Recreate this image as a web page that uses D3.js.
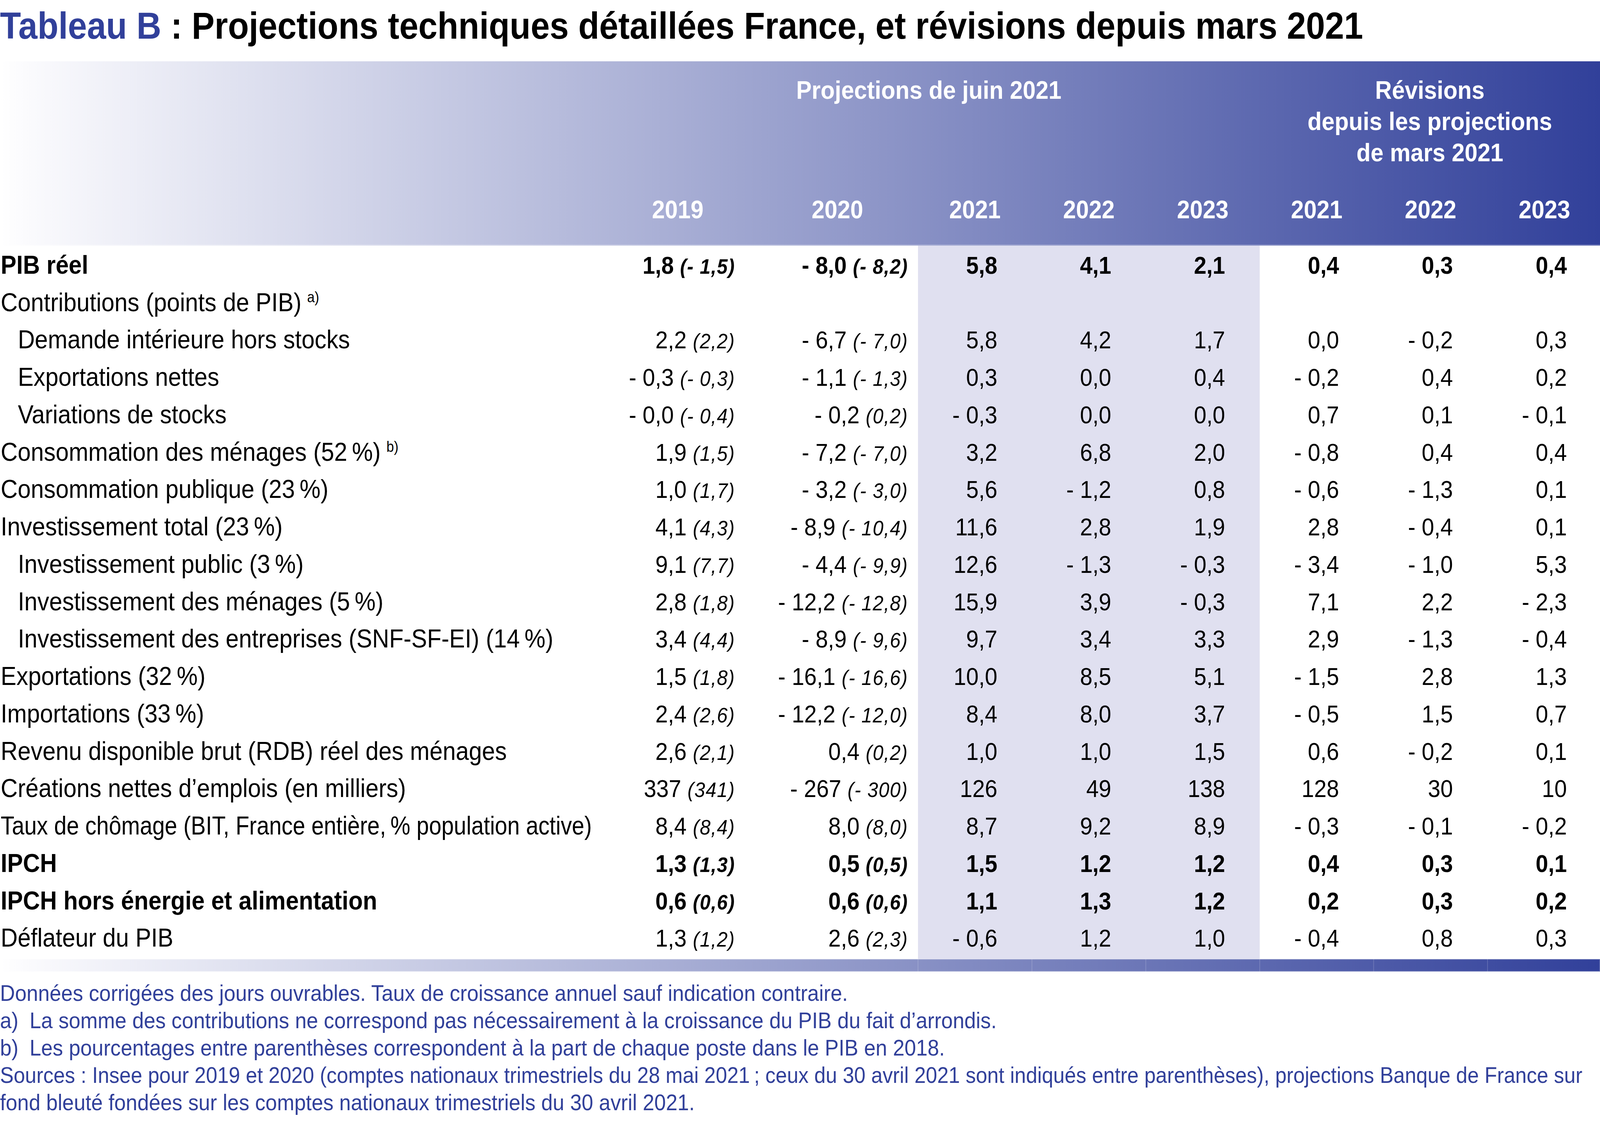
<!DOCTYPE html>
<html>
<head>
<meta charset="utf-8">
<script src="https://cdn.jsdelivr.net/npm/d3@7"></script>
<style>
  html, body { margin: 0; padding: 0; background: #fff; overflow: hidden; }
  svg { display: block; width: 100vw; height: 100vh; }
</style>
</head>
<body>
<div id="chart"></div>
<script>
// Tableau B - projections France, juin 2021

var rowLabels = [
  "PIB réel",
  "Contributions (points de PIB)",
  "Demande intérieure hors stocks",
  "Exportations nettes",
  "Variations de stocks",
  "Consommation des ménages (52\u2009%)",
  "Consommation publique (23\u2009%)",
  "Investissement total (23\u2009%)",
  "Investissement public (3\u2009%)",
  "Investissement des ménages (5\u2009%)",
  "Investissement des entreprises (SNF-SF-EI) (14\u2009%)",
  "Exportations (32\u2009%)",
  "Importations (33\u2009%)",
  "Revenu disponible brut (RDB) réel des ménages",
  "Créations nettes d’emplois (en milliers)",
  "Taux de chômage (BIT, France entière,\u2009% population active)",
  "IPCH",
  "IPCH hors énergie et alimentation",
  "Déflateur du PIB"
];
var boldRows = [0, 16, 17];
var indentRows = [2, 3, 4, 8, 9, 10];
var integerRows = [14];
var noteMarks = [null, "a)", null, null, null, "b)"];

// 2019 / 2020 : valeur publiée (et valeur du 30 avril entre parenthèses)
var v2019 = [1.8, null, 2.2, -0.3, -0.0, 1.9, 1.0, 4.1, 9.1, 2.8, 3.4, 1.5, 2.4, 2.6, 337, 8.4, 1.3, 0.6, 1.3];
var p2019 = [-1.5, null, 2.2, -0.3, -0.4, 1.5, 1.7, 4.3, 7.7, 1.8, 4.4, 1.8, 2.6, 2.1, 341, 8.4, 1.3, 0.6, 1.2];
var v2020 = [-8.0, null, -6.7, -1.1, -0.2, -7.2, -3.2, -8.9, -4.4, -12.2, -8.9, -16.1, -12.2, 0.4, -267, 8.0, 0.5, 0.6, 2.6];
var p2020 = [-8.2, null, -7.0, -1.3, 0.2, -7.0, -3.0, -10.4, -9.9, -12.8, -9.6, -16.6, -12.0, 0.2, -300, 8.0, 0.5, 0.6, 2.3];
// projections de juin 2021
var proj2021 = [5.8, null, 5.8, 0.3, -0.3, 3.2, 5.6, 11.6, 12.6, 15.9, 9.7, 10.0, 8.4, 1.0, 126, 8.7, 1.5, 1.1, -0.6];
var proj2022 = [4.1, null, 4.2, 0.0, 0.0, 6.8, -1.2, 2.8, -1.3, 3.9, 3.4, 8.5, 8.0, 1.0, 49, 9.2, 1.2, 1.3, 1.2];
var proj2023 = [2.1, null, 1.7, 0.4, 0.0, 2.0, 0.8, 1.9, -0.3, -0.3, 3.3, 5.1, 3.7, 1.5, 138, 8.9, 1.2, 1.2, 1.0];
// revisions depuis mars 2021
var rev2021 = [0.4, null, 0.0, -0.2, 0.7, -0.8, -0.6, 2.8, -3.4, 7.1, 2.9, -1.5, -0.5, 0.6, 128, -0.3, 0.4, 0.2, -0.4];
var rev2022 = [0.3, null, -0.2, 0.4, 0.1, 0.4, -1.3, -0.4, -1.0, 2.2, -1.3, 2.8, 1.5, -0.2, 30, -0.1, 0.3, 0.3, 0.8];
var rev2023 = [0.4, null, 0.3, 0.2, -0.1, 0.4, 0.1, 0.1, 5.3, -2.3, -0.4, 1.3, 0.7, 0.1, 10, -0.2, 0.1, 0.2, 0.3];

var histYears = ["2019", "2020"];
var projYears = ["2021", "2022", "2023"];
var revYears = ["2021", "2022", "2023"];
var groupLabels = ["Projections de juin 2021", ["Révisions", "depuis les projections", "de mars 2021"]];

var titleLead = "Tableau B";
var titleRest = " : Projections techniques détaillées France, et révisions depuis mars 2021";
var notes = [
  ["", "Données corrigées des jours ouvrables. Taux de croissance annuel sauf indication contraire."],
  ["a)", "La somme des contributions ne correspond pas nécessairement à la croissance du PIB du fait d’arrondis."],
  ["b)", "Les pourcentages entre parenthèses correspondent à la part de chaque poste dans le PIB en 2018."],
  ["", "Sources : Insee pour 2019 et 2020 (comptes nationaux trimestriels du 28 mai 2021\u2009; ceux du 30 avril 2021 sont indiqués entre parenthèses), projections Banque de France sur"],
  ["", "fond bleuté fondées sur les comptes nationaux trimestriels du 30 avril 2021."]
];

var W = 4488, H = 2886;
var FONT = "'Liberation Sans', Arial, Helvetica, sans-serif";
var BLUE = "#31409a";
var headTop = 157, headBot = 629, bandTop = 2456, bandBot = 2488;

var fmt = function(v, r) {
  if (v === null || v === undefined) return "";
  var neg = v < 0 || Object.is(v, -0);
  var s = Math.abs(v).toFixed(integerRows.indexOf(r) >= 0 ? 0 : 1).replace(".", ",");
  return (neg ? "- " : "") + s;
};

// viewBox keeps the 4488x2886 layout whatever the window really is
var svg = d3.select("#chart").append("svg")
  .attr("viewBox", "0 0 " + W + " " + H)
  .attr("preserveAspectRatio", "none")
  .attr("font-family", FONT);

var defs = svg.append("defs");
var grad = defs.append("linearGradient")
  .attr("id", "bleu").attr("gradientUnits", "userSpaceOnUse")
  .attr("x1", 0).attr("x2", W).attr("y1", 0).attr("y2", 0);
grad.append("stop").attr("offset", 0).attr("stop-color", "#ffffff");
grad.append("stop").attr("offset", 0.02).attr("stop-color", "#fafafd");
grad.append("stop").attr("offset", 1).attr("stop-color", BLUE);

// scales
var y = d3.scaleLinear().domain([0, rowLabels.length - 1]).range([701, 2424.5]);
var colKeys = ["p2021", "p2022", "p2023", "r2021", "r2022", "r2023"];
var x = d3.scaleBand().domain(colKeys).range([2575, 2575 + 6 * 319.5]);
var hist = d3.scaleOrdinal().domain(histYears).range([1901, 2349]);      // centre des en-tetes
var histRight = d3.scaleOrdinal().domain(histYears).range([2062, 2547]); // bord droit des valeurs
var valPad = 97;

// title
var title = svg.append("text")
  .attr("x", 0).attr("y", 99)
  .attr("font-size", 82).attr("font-weight", "bold");
title.append("tspan").attr("fill", BLUE).text(titleLead);
title.append("tspan").attr("fill", "#000").text(titleRest);
var tw = title.node().getComputedTextLength();
title.attr("font-size", 82 * 3824 / tw);

// header band
svg.append("rect")
  .attr("x", 0).attr("y", headTop).attr("width", W).attr("height", headBot - headTop)
  .attr("fill", "url(#bleu)");
svg.append("rect")
  .attr("x", 0).attr("y", headBot - 3).attr("width", W).attr("height", 3)
  .attr("fill", "#fff").attr("opacity", 0.25);

// shaded projection columns
svg.append("rect")
  .attr("x", x("p2021")).attr("y", headBot)
  .attr("width", x("r2021") - x("p2021")).attr("height", bandTop - headBot)
  .attr("fill", "#e0e0f0");

// bottom band
svg.append("rect")
  .attr("x", 0).attr("y", bandTop).attr("width", W).attr("height", bandBot - bandTop)
  .attr("fill", "url(#bleu)");
svg.append("g").selectAll("line")
  .data(colKeys)
  .join("line")
  .attr("x1", d => x(d)).attr("x2", d => x(d))
  .attr("y1", bandTop).attr("y2", bandBot)
  .attr("stroke", "#fff").attr("stroke-opacity", 0.18).attr("stroke-width", 2);
svg.append("rect")
  .attr("x", 0).attr("y", bandTop).attr("width", W).attr("height", bandBot - bandTop)
  .attr("fill", "none").attr("stroke", "#fff").attr("stroke-opacity", 0.3).attr("stroke-width", 3);

// header texts
var head = svg.append("g")
  .attr("fill", "#fff").attr("font-weight", "bold").attr("font-size", 65)
  .attr("text-anchor", "middle");

head.append("text")
  .attr("x", (1677 + x("r2021")) / 2).attr("y", 253)
  .text(groupLabels[0]);
head.append("text")
  .selectAll("tspan")
  .data(groupLabels[1])
  .join("tspan")
  .attr("x", (x("r2021") + W) / 2)
  .attr("y", (d, i) => 253 + i * 80)
  .text(d => d);

head.selectAll(".hy")
  .data(histYears)
  .join("text")
  .attr("class", "hy")
  .attr("x", d => hist(d)).attr("y", 559)
  .text(d => d);

head.selectAll(".py")
  .data(projYears.concat(revYears))
  .join("text")
  .attr("class", "py")
  .attr("x", (d, i) => x(colKeys[i]) + x.bandwidth() / 2).attr("y", 559)
  .text(d => d);

// rows
var rowsG = svg.append("g").attr("fill", "#000");
var labelSize = 66;

var labels = rowsG.selectAll(".lab")
  .data(rowLabels)
  .join("text")
  .attr("class", "lab")
  .attr("x", (d, i) => indentRows.indexOf(i) >= 0 ? 50 : 2)
  .attr("y", (d, i) => y(i))
  .attr("font-size", labelSize)
  .attr("font-weight", (d, i) => boldRows.indexOf(i) >= 0 ? "bold" : "normal")
  .text(d => d);

// the long unemployment label is set tighter in the original
labels.filter((d, i) => i === 15)
  .attr("textLength", 1658).attr("lengthAdjust", "spacingAndGlyphs");

labels.filter((d, i) => noteMarks[i])
  .append("tspan")
  .attr("dx", 16).attr("dy", -23)
  .attr("font-size", 38).attr("font-weight", "normal")
  .text(d => noteMarks[rowLabels.indexOf(d)]);

// 2019 / 2020 with earlier estimate in parentheses
var histData = [[v2019, p2019], [v2020, p2020]];
histYears.forEach(function(yr, k) {
  rowsG.selectAll(".h" + yr)
    .data(rowLabels.map((d, i) => i).filter(i => histData[k][0][i] !== null))
    .join("text")
    .attr("class", "h" + yr)
    .attr("x", histRight(yr))
    .attr("y", i => y(i))
    .attr("text-anchor", "end")
    .attr("font-size", 63)
    .attr("font-weight", i => boldRows.indexOf(i) >= 0 ? "bold" : "normal")
    .each(function(i) {
      var t = d3.select(this);
      t.append("tspan").text(fmt(histData[k][0][i], i) + " ");
      t.append("tspan")
        .attr("font-style", "italic").attr("font-size", 54).attr("letter-spacing", 1.5)
        .text("(" + fmt(histData[k][1][i], i) + ")");
    });
});

// projections and revisions
var colSeries = [proj2021, proj2022, proj2023, rev2021, rev2022, rev2023];
colKeys.forEach(function(key, k) {
  rowsG.selectAll("." + key)
    .data(rowLabels.map((d, i) => i).filter(i => colSeries[k][i] !== null))
    .join("text")
    .attr("class", key)
    .attr("x", x(key) + x.bandwidth() - valPad)
    .attr("y", i => y(i))
    .attr("text-anchor", "end")
    .attr("font-size", 63)
    .attr("font-weight", i => boldRows.indexOf(i) >= 0 ? "bold" : "normal")
    .text(i => fmt(colSeries[k][i], i));
});

// notes
var noteG = svg.append("g").attr("fill", BLUE).attr("font-size", 54);
var noteText = noteG.selectAll("text")
  .data(notes)
  .join("text")
  .attr("x", 0)
  .attr("y", (d, i) => 2563 + i * 70);
noteText.each(function(d) {
  var t = d3.select(this);
  if (d[0]) {
    t.append("tspan").attr("x", 0).text(d[0]);
    t.append("tspan").attr("x", 83).text(d[1]);
  } else {
    t.append("tspan").attr("x", 0).text(d[1]);
  }
});
var nw = noteText.filter((d, i) => i === 0).node().getComputedTextLength();
var noteSize = 54 * 2378 / nw;
noteG.attr("font-size", noteSize);
// the sources line runs nearly to the page edge: shrink it a touch so it fits
var srcLine = noteText.filter((d, i) => i === 3);
var sw = srcLine.node().getComputedTextLength();
if (sw > 4440) srcLine.attr("font-size", noteSize * 4440 / sw);
</script>
</body>
</html>
